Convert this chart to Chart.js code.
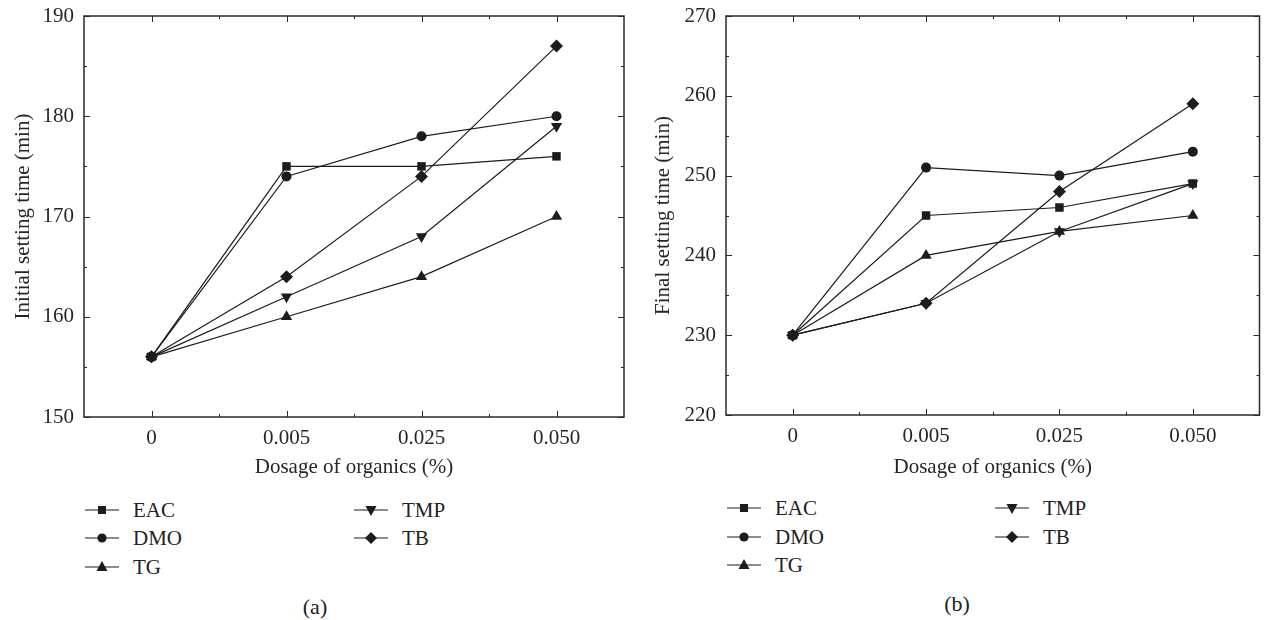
<!DOCTYPE html>
<html>
<head>
<meta charset="utf-8">
<script src="https://cdn.jsdelivr.net/npm/chart.js@4.4.1/dist/chart.umd.min.js"></script>
<style>
  html, body { margin: 0; padding: 0; background: #fff; }
  body { width: 1266px; height: 620px; position: relative; overflow: hidden;
         font-family: "Liberation Serif", "DejaVu Serif", serif; color: #222; }
  .cv { position: absolute; top: 0; }
  .leg { position: absolute; height: 26px; display: flex; align-items: center; font-size: 21px; white-space: nowrap; color: #222; }
  .leg svg { display: block; margin-right: 14px; }
  .cap { position: absolute; font-size: 22px; transform: translate(-50%, -50%); color: #222; }
</style>
</head>
<body>
<canvas id="chartA" class="cv" width="640" height="480" style="left:0px"></canvas>
<canvas id="chartB" class="cv" width="626" height="480" style="left:640px"></canvas>
<div id="legendA"></div>
<div id="legendB"></div>
<div class="cap" style="left:315px; top:607px;">(a)</div>
<div class="cap" style="left:957px; top:604px;">(b)</div>
<script>
// ---------- data ----------
const categories = ['0', '0.005', '0.025', '0.050'];
const seriesNames = ['EAC', 'DMO', 'TG', 'TMP', 'TB'];

// (a) Initial setting time (min)
const initialEAC = [156, 175, 175, 176];
const initialDMO = [156, 174, 178, 180];
const initialTG  = [156, 160, 164, 170];
const initialTMP = [156, 162, 168, 179];
const initialTB  = [156, 164, 174, 187];

// (b) Final setting time (min)
const finalEAC = [230, 245, 246, 249];
const finalDMO = [230, 251, 250, 253];
const finalTG  = [230, 240, 243, 245];
const finalTMP = [230, 234, 243, 249];
const finalTB  = [230, 234, 248, 259];

const yTicksA = [150, 160, 170, 180, 190];
const yTicksB = [220, 230, 240, 250, 260, 270];

// ---------- styling ----------
const FONT = '"Liberation Serif", "DejaVu Serif", serif';
const FS = 21;
const INK = '#1c1c1c';
const TXT = '#262626';
const markerStyle = {
  EAC: { pointStyle: 'rect', pointRadius: 6, rotation: 0 },
  DMO: { pointStyle: 'circle', pointRadius: 5, rotation: 0 },
  TG:  { pointStyle: 'triangle', pointRadius: 6.5, rotation: 0 },
  TMP: { pointStyle: 'triangle', pointRadius: 6.5, rotation: 180 },
  TB:  { pointStyle: 'rectRot', pointRadius: 6.5, rotation: 0 }
};

function makeDatasets(values) {
  return seriesNames.map((name, i) => ({
    label: name,
    data: values[i],
    borderColor: INK,
    backgroundColor: INK,
    borderWidth: 1.2,
    pointBackgroundColor: INK,
    pointBorderColor: INK,
    pointBorderWidth: 0,
    pointStyle: markerStyle[name].pointStyle,
    pointRadius: markerStyle[name].pointRadius,
    pointRotation: markerStyle[name].rotation,
    tension: 0,
    fill: false
  }));
}

// frame + inward ticks plugin
const framePlugin = {
  id: 'frameTicks',
  beforeDatasetsDraw(chart, args, opts) {
    const { ctx, chartArea: a, scales } = chart;
    const xs = scales.x, ys = scales.y;
    ctx.save();
    ctx.strokeStyle = '#2a2a2a';
    ctx.lineWidth = 1;
    const major = 6, minor = 3;
    ctx.beginPath();
    for (let i = 0; i < categories.length; i++) {
      const px = Math.round(xs.getPixelForValue(i)) + 0.5;
      ctx.moveTo(px, a.bottom); ctx.lineTo(px, a.bottom - major);
      ctx.moveTo(px, a.top); ctx.lineTo(px, a.top + major);
      if (i < categories.length - 1) {
        const pm = Math.round(xs.getPixelForValue(i + 0.5)) + 0.5;
        ctx.moveTo(pm, a.bottom); ctx.lineTo(pm, a.bottom - minor);
        ctx.moveTo(pm, a.top); ctx.lineTo(pm, a.top + minor);
      }
    }
    const ticks = opts.yTicks;
    const step = ticks[1] - ticks[0];
    for (let k = 0; k < ticks.length; k++) {
      const py = Math.round(ys.getPixelForValue(ticks[k])) + 0.5;
      ctx.moveTo(a.left, py); ctx.lineTo(a.left + major, py);
      ctx.moveTo(a.right, py); ctx.lineTo(a.right - major, py);
      if (k < ticks.length - 1) {
        const pm = Math.round(ys.getPixelForValue(ticks[k] + step / 2)) + 0.5;
        ctx.moveTo(a.left, pm); ctx.lineTo(a.left + minor, pm);
        ctx.moveTo(a.right, pm); ctx.lineTo(a.right - minor, pm);
      }
    }
    ctx.stroke();
    ctx.lineWidth = 1.5;
    ctx.strokeRect(a.left, a.top, a.right - a.left, a.bottom - a.top);
    ctx.restore();
  }
};

function makeChart(id, values, yTicks, yTitle, padRight, padTop, yWidth, xHeight) {
  const ctx = document.getElementById(id).getContext('2d');
  return new Chart(ctx, {
    type: 'line',
    data: { labels: categories, datasets: makeDatasets(values) },
    plugins: [framePlugin],
    options: {
      responsive: false,
      animation: false,
      devicePixelRatio: 1,
      layout: { padding: { left: 0, right: padRight, top: padTop, bottom: 0 } },
      plugins: {
        legend: { display: false },
        tooltip: { enabled: false },
        frameTicks: { yTicks: yTicks }
      },
      scales: {
        x: {
          type: 'category',
          offset: true,
          grid: { display: false, drawTicks: false },
          border: { display: false },
          ticks: { color: TXT, font: { family: FONT, size: FS }, padding: 9, maxRotation: 0 },
          title: { display: true, text: 'Dosage of organics (%)', color: TXT,
                   font: { family: FONT, size: FS }, padding: { top: 0, bottom: 0 } },
          afterFit(scale) {
            scale.height = xHeight;
            scale.paddingLeft = 0; scale.paddingRight = 0;
          }
        },
        y: {
          min: yTicks[0],
          max: yTicks[yTicks.length - 1],
          grid: { display: false, drawTicks: false },
          border: { display: false },
          ticks: { stepSize: yTicks[1] - yTicks[0], color: TXT,
                   font: { family: FONT, size: FS }, padding: 10 },
          title: { display: true, text: yTitle, color: TXT,
                   font: { family: FONT, size: FS }, padding: { top: 11, bottom: 0 } },
          afterFit(scale) {
            scale.width = yWidth;
            scale.paddingTop = 0; scale.paddingBottom = 0;
          }
        }
      }
    }
  });
}

makeChart('chartA', [initialEAC, initialDMO, initialTG, initialTMP, initialTB],
          yTicksA, 'Initial setting time (min)', 16, 16, 84, 63);
makeChart('chartB', [finalEAC, finalDMO, finalTG, finalTMP, finalTB],
          yTicksB, 'Final setting time (min)', 2, 16, 86, 65);

// ---------- legends (HTML) ----------
function markerSVG(name) {
  const c = INK;
  let shape = '';
  if (name === 'EAC') shape = `<rect x="13" y="9" width="8" height="8" fill="${c}"/>`;
  if (name === 'DMO') shape = `<circle cx="17" cy="13" r="4.6" fill="${c}"/>`;
  if (name === 'TG')  shape = `<polygon points="17,7 22.5,17 11.5,17" fill="${c}"/>`;
  if (name === 'TMP') shape = `<polygon points="11.5,9 22.5,9 17,19" fill="${c}"/>`;
  if (name === 'TB')  shape = `<polygon points="17,7 23,13 17,19 11,13" fill="${c}"/>`;
  return `<svg width="34" height="26" viewBox="0 0 34 26"><line x1="0" y1="13" x2="34" y2="13" stroke="${c}" stroke-width="1.2"/>${shape}</svg>`;
}
function buildLegend(containerId, col1x, col2x, rowsY) {
  const el = document.getElementById(containerId);
  const placement = {
    EAC: [col1x, rowsY[0]], DMO: [col1x, rowsY[1]], TG: [col1x, rowsY[2]],
    TMP: [col2x, rowsY[0]], TB: [col2x, rowsY[1]]
  };
  seriesNames.forEach(name => {
    const d = document.createElement('div');
    d.className = 'leg';
    d.style.left = placement[name][0] + 'px';
    d.style.top = (placement[name][1] - 13) + 'px';
    d.innerHTML = markerSVG(name) + '<span>' + name + '</span>';
    el.appendChild(d);
  });
}
buildLegend('legendA', 85, 354, [510, 538, 567]);
buildLegend('legendB', 727, 995, [508, 537, 565]);
</script>
</body>
</html>
